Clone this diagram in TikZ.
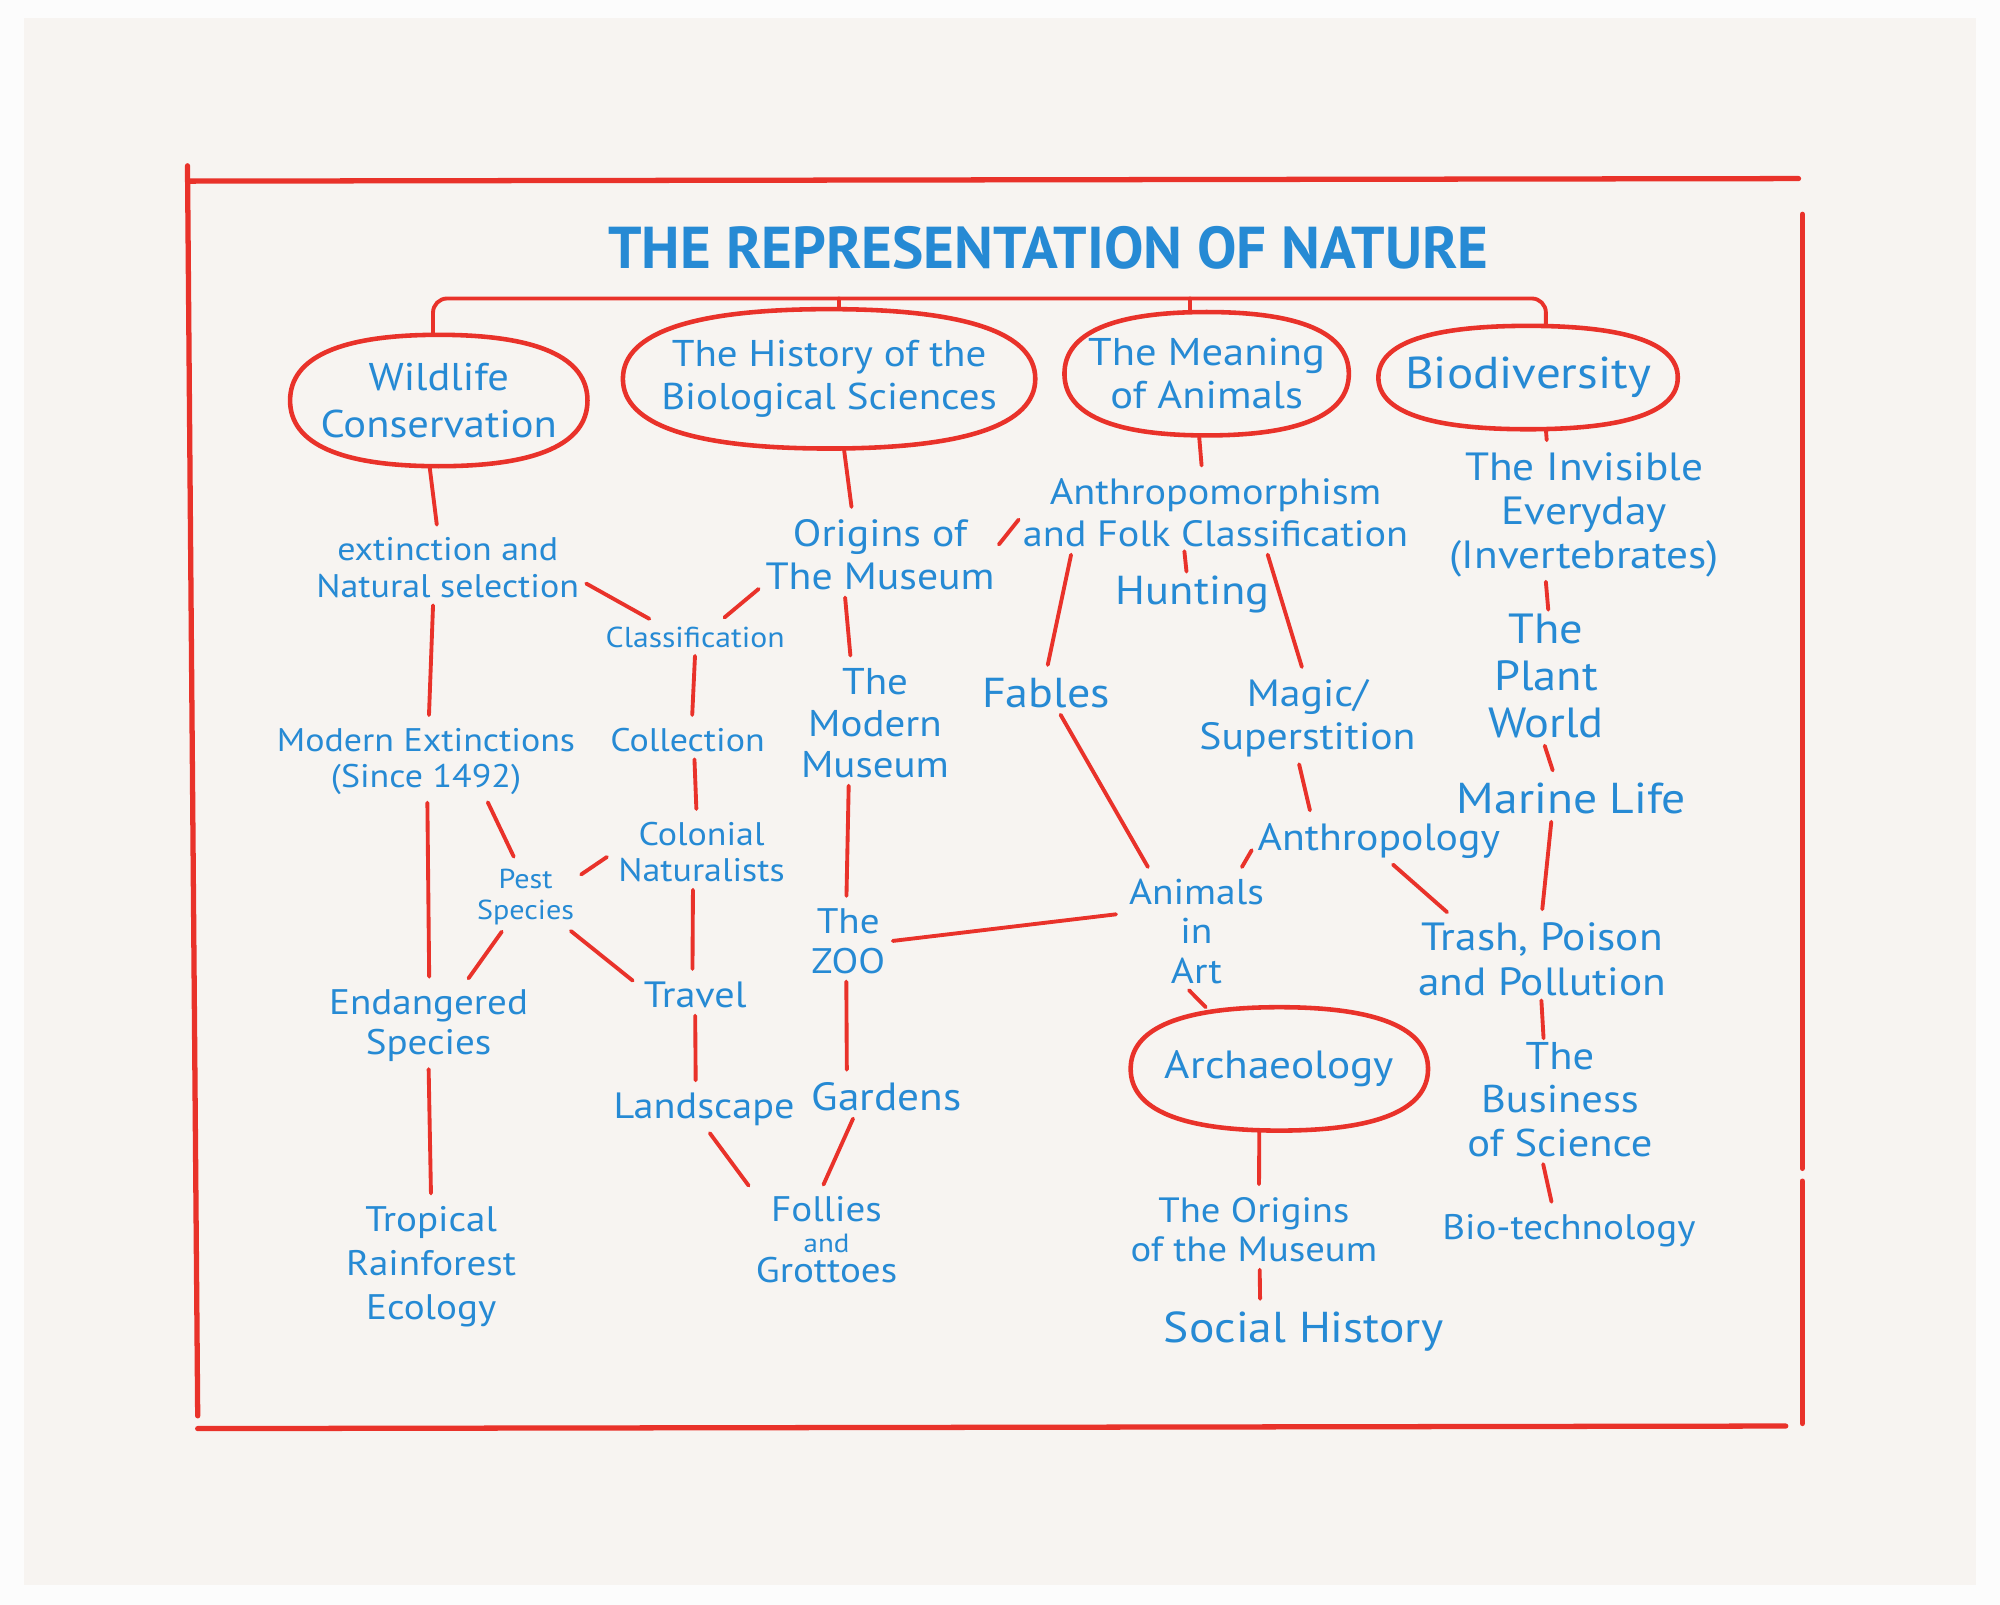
\documentclass[tikz,border=0pt]{standalone}
\usepackage{fontspec}
\setmainfont{PT Sans}[FakeStretch=1.1]
\newfontfamily\titlefont{PT Sans}
\usetikzlibrary{calc}
\definecolor{ink}{RGB}{38,138,212}
\definecolor{marker}{RGB}{233,50,42}
\definecolor{paper}{RGB}{247,244,241}
\definecolor{edge}{RGB}{252,252,252}
\newcommand\hand[2]{\fontsize{#1}{#2}\selectfont\lineskiplimit=-50pt}
\newcommand\blob[1]{%
  \draw[pen, line width=1.3pt]
    (#1.east) .. controls ($(#1.east)!0.66!(#1.north east)$) and ($(#1.north)!0.66!(#1.north east)$) .. (#1.north)
    .. controls ($(#1.north)!0.66!(#1.north west)$) and ($(#1.west)!0.66!(#1.north west)$) .. (#1.west)
    .. controls ($(#1.west)!0.66!(#1.south west)$) and ($(#1.south)!0.66!(#1.south west)$) .. (#1.south)
    .. controls ($(#1.south)!0.66!(#1.south east)$) and ($(#1.east)!0.66!(#1.south east)$) .. cycle;}
\tikzset{
  pen/.style={draw=marker, line width=1.1pt, line cap=round},
  link/.style={pen, shorten <=1pt, shorten >=2.5pt},
  stem/.style={pen, shorten >=2.5pt},
  word/.style={text=ink, align=center, inner sep=1pt},
  oval/.style={inner sep=0pt}
}
\begin{document}
\begin{tikzpicture}[x=0.012755cm, y=-0.012755cm]
\fill[edge] (0,0) rectangle (1568,1258);
\fill[paper] (19,14) rectangle (1549,1243);
\useasboundingbox (0,0) rectangle (1568,1258);
\draw[pen, line width=1.5pt] (147,130) -- (155,1110);
\draw[pen, line width=1.5pt] (148,142) -- (1410,140);
\draw[pen, line width=1.5pt] (155,1120) -- (1400,1118);
\draw[pen, line width=1.5pt] (1413,168) -- (1413,916) (1413,926) -- (1413,1116);

\node[word, font=\titlefont\bfseries\fontsize{16.8}{17}\selectfont] (title) at (822,194) {THE REPRESENTATION OF NATURE};

\node[oval, minimum width=2.96cm, minimum height=1.30cm, label={[word, font=\hand{11}{13.5}]center:{Wildlife\\Conservation}}] (wild) at (344,314) {};
\node[oval, minimum width=4.11cm, minimum height=1.38cm, label={[word, font=\hand{10.6}{12}]center:{The History of the\\Biological Sciences}}] (hist) at (650,297) {};
\node[oval, minimum width=2.83cm, minimum height=1.22cm, label={[word, font=\hand{11}{12.4}]center:{The Meaning\\of Animals}}] (mean) at (946,293) {};
\node[oval, minimum width=2.98cm, minimum height=1.02cm, label={[word, font=\hand{12.7}{14}]center:{Biodiversity}}] (biod) at (1198,296) {};
\node[oval, minimum width=2.96cm, minimum height=1.22cm, label={[word, font=\hand{11.2}{13}]center:{Archaeology}}] (arch) at (1003,838) {};
\foreach \n in {wild,hist,mean,biod,arch} {\blob{\n}}

\draw[pen, rounded corners=4pt] (wild.95) -- (wild.95 |- 0,234) -- (biod.71 |- 0,234) -- (biod.71);
\draw[pen] (hist.82 |- 0,234) -- (hist.82);
\draw[pen] (mean.105 |- 0,234) -- (mean.105);

\node[word, font=\hand{9.3}{10.4}] (ext) at (351,445) {extinction and\\Natural selection};
\node[word, font=\hand{9.3}{10.4}] (modx) at (334,597) {Modern Extinctions\\(Since 1492)};
\node[word, font=\hand{7.8}{8.8}] (pest) at (412,703) {Pest\\Species};
\node[word, font=\hand{10.1}{11.3}] (endg) at (336,804) {Endangered\\Species};
\node[word, font=\hand{10.1}{12.5}] (trop) at (338,993) {Tropical\\Rainforest\\Ecology};

\node[word, font=\hand{8.2}{10}] (cls) at (545,500) {Classification};
\node[word, font=\hand{9.3}{11}] (coll) at (539,580) {Collection};
\node[word, font=\hand{9.3}{10.4}] (colo) at (550,668) {Colonial\\Naturalists};
\node[word, font=\hand{10.4}{12}] (trav) at (545,780) {Travel};
\node[word, font=\hand{10.4}{12}] (land) at (552,870) {Landscape};
\node[word, font=\hand{10.1}{8.6}] (foll) at (648,972) {Follies\\{\hand{7.5}{8.6}and}\\Grottoes};

\node[word, font=\hand{10.8}{12.1}] (orig) at (690,435) {Origins of\\The Museum};
\node[word, font=\hand{10.6}{11.8}] (modm) at (686,567) {The\\Modern\\Museum};
\node[word, font=\hand{10.1}{11.3}] (zoo) at (665,738) {The\\ZOO};
\node[word, font=\hand{11.2}{13}] (gard) at (695,860) {Gardens};

\node[word, font=\hand{10.4}{12}] (anth) at (953,402) {Anthropomorphism\\and Folk Classification};
\node[word, font=\hand{11.5}{13}] (hunt) at (935,466) {Hunting};
\node[word, font=\hand{11.9}{13}] (fabl) at (820,543) {Fables};
\node[word, font=\hand{10.8}{12.1}] (magi) at (1025,563) {Magic/\\Superstition};
\node[word, font=\hand{10.8}{12}] (anpo) at (1081,659) {Anthropology};
\node[word, font=\hand{10.2}{11.2}] (art) at (938,730) {Animals\\in\\Art};
\node[word, font=\hand{11.2}{13}] (tras) at (1209,752) {Trash, Poison\\and Pollution};
\node[word, font=\hand{10}{11.2}] (omus) at (983,964) {The Origins\\of the Museum};
\node[word, font=\hand{12.3}{14}] (soci) at (1022,1044) {Social History};

\node[word, font=\hand{11.2}{12.5}] (invi) at (1242,404) {The Invisible\\Everyday\\(Invertebrates)};
\node[word, font=\hand{12}{13.4}] (plan) at (1212,530) {The\\Plant\\World};
\node[word, font=\hand{12.3}{14}] (mari) at (1232,626) {Marine Life};
\node[word, font=\hand{11}{12.3}] (busi) at (1223,862) {The\\Business\\of Science};
\node[word, font=\hand{10.1}{12}] (biot) at (1230,965) {Bio-technology};

\foreach \a/\b in {wild.-98/ext.106, hist.-78/orig.125, mean.-97/anth.109, biod.-71/invi.119, arch.-108/omus.82}
  \draw[stem] (\a) -- (\b);
\foreach \a/\b in {ext.-113/modx.86, modx.-88/endg.89, modx.-32/pest.104, pest.-124/endg.49, pest.-37/trav.171,
  pest.21/colo.180, endg.-90/trop.90, ext.-6/cls.159, orig.-165/cls.33, cls.-90/coll.75, coll.-67/colo.98,
  colo.-104/trav.99, trav.-90/land.112, land.-80/foll.147, gard.-150/foll.98, orig.-132/modm.112,
  modm.-114/zoo.93, zoo.-93/gard.155, zoo.0/art.166, anth.-165/fabl.90, anth.-37/magi.94,
  fabl.-56/art.128, magi.-102/anpo.162, anpo.-177/art.54, anpo.-62/tras.155,
  plan.-92/mari.129, mari.-135/tras.91, busi.-106/biot.127, omus.-81/soci.151}
  \draw[link] (\a) -- (\b);
\draw[pen] (orig.5) -- (anth.-178);
\draw[pen] (invi.-120) -- (plan.88);
\draw[pen] (tras.-91) -- (busi.105);
\draw[pen, shorten <=1pt] (art.-100) -- (arch.140);
\draw[pen] (anth.-129) -- (hunt.105);
\end{tikzpicture}
\end{document}
